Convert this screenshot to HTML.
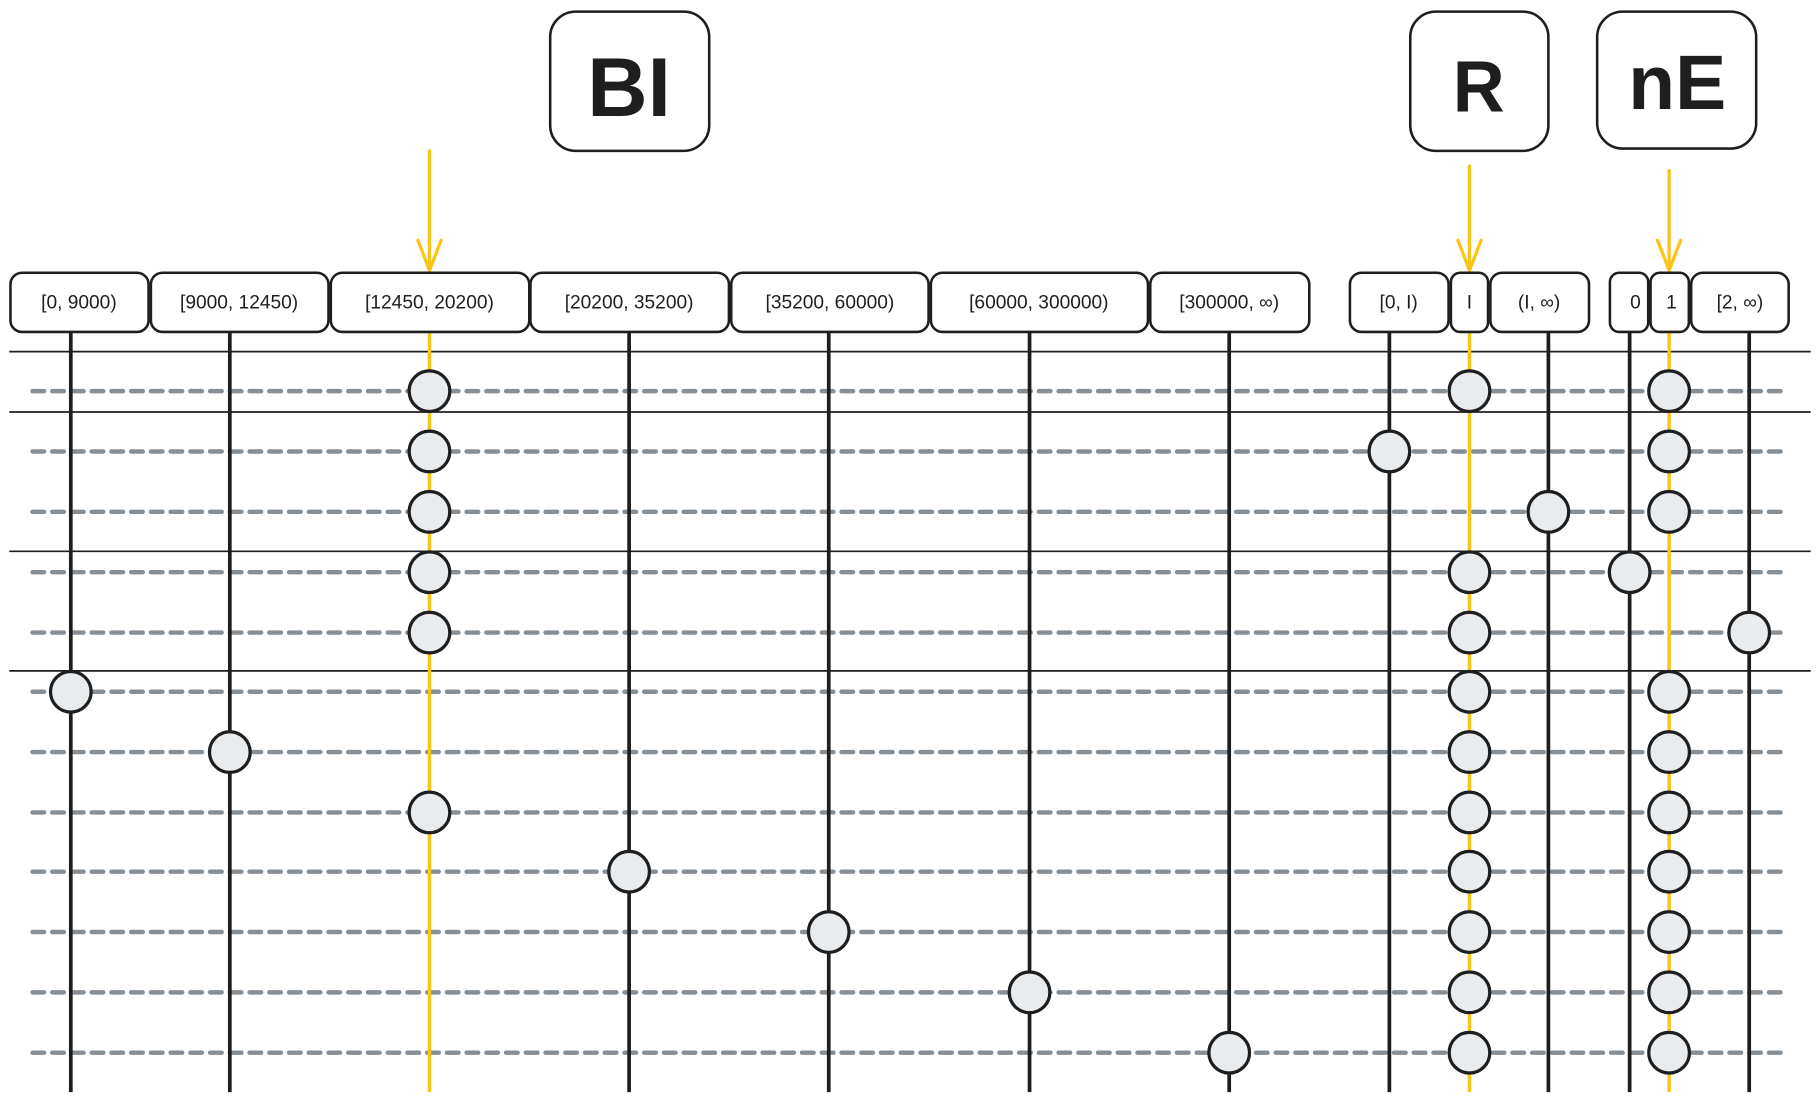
<!DOCTYPE html>
<html><head><meta charset="utf-8"><style>html,body{margin:0;padding:0;background:#fff}svg{display:block}</style></head>
<body>
<svg width="1820" height="1101" viewBox="0 0 1568 948.6" preserveAspectRatio="none" xmlns="http://www.w3.org/2000/svg" font-family="Liberation Sans, sans-serif">
<g fill="#fff" stroke="#1e1e1e" stroke-width="2.2">
<rect x="474" y="10" width="137" height="120" rx="22"/>
<rect x="1215" y="10" width="119" height="120" rx="22"/>
<rect x="1376" y="10" width="137" height="118" rx="22"/>
</g>
<g font-weight="bold" font-size="72" fill="#1e1e1e" text-anchor="middle">
<text x="542" y="100">BI</text>
<text x="1274" y="96" font-size="62">R</text>
<text x="1445" y="94" font-size="66">nE</text>
</g>
<g stroke="#fcc419" stroke-width="2.8" fill="none" stroke-linecap="round">
<line x1="370" y1="130" x2="370" y2="233"/><polyline points="360,207 370,233 380,207"/>
<line x1="1266" y1="143" x2="1266" y2="233"/><polyline points="1256,207 1266,233 1276,207"/>
<line x1="1438" y1="147" x2="1438" y2="233"/><polyline points="1428,207 1438,233 1448,207"/>
</g>
<g stroke="#1e1e1e" stroke-width="1.5">
<line x1="8" y1="303" x2="1560" y2="303"/>
<line x1="8" y1="355" x2="1560" y2="355"/>
<line x1="8" y1="475" x2="1560" y2="475"/>
<line x1="8" y1="578" x2="1560" y2="578"/>
</g>
<g stroke="#868e96" stroke-width="3.8" stroke-dasharray="10 7" stroke-linecap="round">
<line x1="28" y1="337" x2="1535" y2="337"/>
<line x1="28" y1="389" x2="1535" y2="389"/>
<line x1="28" y1="441" x2="1535" y2="441"/>
<line x1="28" y1="493" x2="1535" y2="493"/>
<line x1="28" y1="545" x2="1535" y2="545"/>
<line x1="28" y1="596" x2="1535" y2="596"/>
<line x1="28" y1="648" x2="1535" y2="648"/>
<line x1="28" y1="700" x2="1535" y2="700"/>
<line x1="28" y1="751" x2="1535" y2="751"/>
<line x1="28" y1="803" x2="1535" y2="803"/>
<line x1="28" y1="855" x2="1535" y2="855"/>
<line x1="28" y1="907" x2="1535" y2="907"/>
</g>
<g stroke="#1e1e1e" stroke-width="3.2">
<line x1="61" y1="286" x2="61" y2="941"/>
<line x1="198" y1="286" x2="198" y2="941"/>
<line x1="542" y1="286" x2="542" y2="941"/>
<line x1="714" y1="286" x2="714" y2="941"/>
<line x1="887" y1="286" x2="887" y2="941"/>
<line x1="1059" y1="286" x2="1059" y2="941"/>
<line x1="1197" y1="286" x2="1197" y2="941"/>
<line x1="1334" y1="286" x2="1334" y2="941"/>
<line x1="1404" y1="286" x2="1404" y2="941"/>
<line x1="1507" y1="286" x2="1507" y2="941"/>
</g>
<g stroke="#fcc419" stroke-width="3">
<line x1="370" y1="286" x2="370" y2="941"/>
<line x1="1266" y1="286" x2="1266" y2="941"/>
<line x1="1438" y1="286" x2="1438" y2="941"/>
</g>
<g fill="#fff" stroke="#1e1e1e" stroke-width="2.2">
<rect x="9" y="235" width="119" height="51" rx="10"/>
<rect x="130" y="235" width="153" height="51" rx="10"/>
<rect x="285" y="235" width="171" height="51" rx="10"/>
<rect x="457" y="235" width="171" height="51" rx="10"/>
<rect x="630" y="235" width="170" height="51" rx="10"/>
<rect x="802" y="235" width="187" height="51" rx="10"/>
<rect x="991" y="235" width="137" height="51" rx="10"/>
<rect x="1163" y="235" width="85" height="51" rx="10"/>
<rect x="1250" y="235" width="32" height="51" rx="8"/>
<rect x="1284" y="235" width="85" height="51" rx="10"/>
<rect x="1387" y="235" width="33" height="51" rx="8"/>
<rect x="1422" y="235" width="33" height="51" rx="8"/>
<rect x="1457" y="235" width="84" height="51" rx="10"/>
</g>
<g font-size="16.5" fill="#1e1e1e" text-anchor="middle">
<text x="68" y="266">[0, 9000)</text>
<text x="206" y="266">[9000, 12450)</text>
<text x="370" y="266">[12450, 20200)</text>
<text x="542" y="266">[20200, 35200)</text>
<text x="715" y="266">[35200, 60000)</text>
<text x="895" y="266">[60000, 300000)</text>
<text x="1059" y="266">[300000, ∞)</text>
<text x="1205" y="266">[0, I)</text>
<text x="1266" y="266">I</text>
<text x="1326" y="266">(I, ∞)</text>
<text x="1409" y="266">0</text>
<text x="1440" y="266">1</text>
<text x="1499" y="266">[2, ∞)</text>
</g>
<g fill="#e9ecef" stroke="#1e1e1e" stroke-width="2.8">
<circle cx="370" cy="337" r="17.5"/><circle cx="1266" cy="337" r="17.5"/><circle cx="1438" cy="337" r="17.5"/>
<circle cx="370" cy="389" r="17.5"/><circle cx="1197" cy="389" r="17.5"/><circle cx="1438" cy="389" r="17.5"/>
<circle cx="370" cy="441" r="17.5"/><circle cx="1334" cy="441" r="17.5"/><circle cx="1438" cy="441" r="17.5"/>
<circle cx="370" cy="493" r="17.5"/><circle cx="1266" cy="493" r="17.5"/><circle cx="1404" cy="493" r="17.5"/>
<circle cx="370" cy="545" r="17.5"/><circle cx="1266" cy="545" r="17.5"/><circle cx="1507" cy="545" r="17.5"/>
<circle cx="61" cy="596" r="17.5"/><circle cx="1266" cy="596" r="17.5"/><circle cx="1438" cy="596" r="17.5"/>
<circle cx="198" cy="648" r="17.5"/><circle cx="1266" cy="648" r="17.5"/><circle cx="1438" cy="648" r="17.5"/>
<circle cx="370" cy="700" r="17.5"/><circle cx="1266" cy="700" r="17.5"/><circle cx="1438" cy="700" r="17.5"/>
<circle cx="542" cy="751" r="17.5"/><circle cx="1266" cy="751" r="17.5"/><circle cx="1438" cy="751" r="17.5"/>
<circle cx="714" cy="803" r="17.5"/><circle cx="1266" cy="803" r="17.5"/><circle cx="1438" cy="803" r="17.5"/>
<circle cx="887" cy="855" r="17.5"/><circle cx="1266" cy="855" r="17.5"/><circle cx="1438" cy="855" r="17.5"/>
<circle cx="1059" cy="907" r="17.5"/><circle cx="1266" cy="907" r="17.5"/><circle cx="1438" cy="907" r="17.5"/>
</g>
</svg>
</body></html>
